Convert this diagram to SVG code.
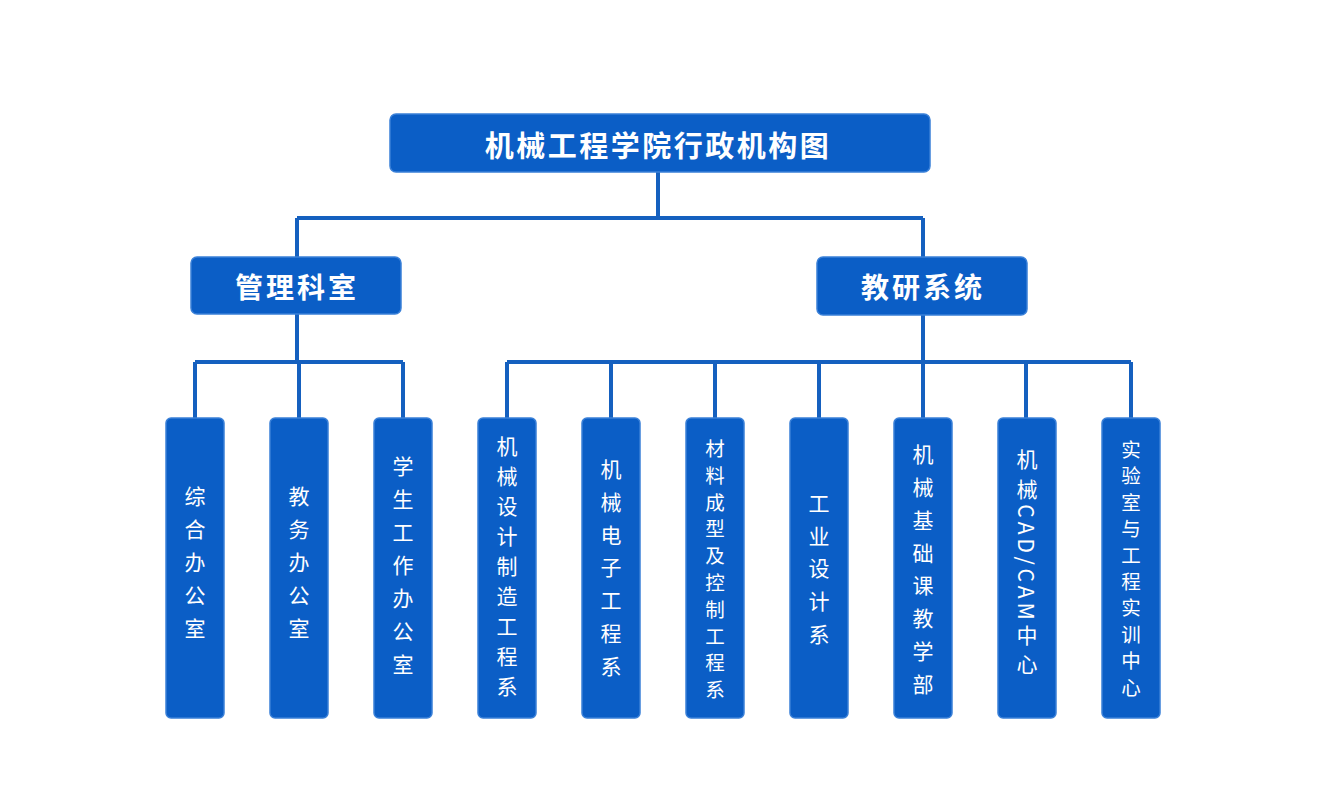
<svg xmlns="http://www.w3.org/2000/svg" width="1328" height="809" viewBox="0 0 1328 809">
<style>
.box{fill:#0b5ec6;stroke:#3a80d8;stroke-width:1.5}
.ln{fill:none;stroke:#1560bf;stroke-width:4;stroke-linejoin:miter}
.t{fill:#ffffff;font-family:"Noto Sans CJK SC","Noto Sans",sans-serif;text-anchor:middle;dominant-baseline:central}
.h{font-weight:bold}
.v{font-size:21px}
.s{font-size:19.5px}
</style>
<rect width="1328" height="809" fill="#ffffff"/>
<g id="connectors">
<path class="ln" d="M658 172 V218 M297 218 H923 M297 218 V257 M923 218 V257"/>
<path class="ln" d="M297 314 V362 M195 362 H403 M195 362 V418 M299 362 V418 M403 362 V418"/>
<path class="ln" d="M923 315 V362 M507 362 H1131 M507 362 V418 M611 362 V418 M715 362 V418 M819 362 V418 M923 362 V418 M1026 362 V418 M1131 362 V418"/>
</g>
<g id="root">
<rect class="box" x="390" y="114" width="540" height="58" rx="6"/>
<text class="t h" x="658" y="144" font-size="29" letter-spacing="2.5">机械工程学院行政机构图</text>
</g>
<g id="guanli">
<rect class="box" x="191" y="257" width="210" height="57" rx="6"/>
<text class="t h" x="297" y="286" font-size="28" letter-spacing="3">管理科室</text>
</g>
<g id="jiaoyan">
<rect class="box" x="817" y="257" width="210" height="58" rx="6"/>
<text class="t h" x="923" y="286" font-size="28" letter-spacing="3">教研系统</text>
</g>
<g id="n1">
<rect class="box" x="166" y="418" width="58" height="300" rx="5"/>
<text class="t v"><tspan x="195" y="495">综</tspan><tspan x="195" y="528">合</tspan><tspan x="195" y="561">办</tspan><tspan x="195" y="594">公</tspan><tspan x="195" y="627">室</tspan></text>
</g>
<g id="n2">
<rect class="box" x="270" y="418" width="58" height="300" rx="5"/>
<text class="t v"><tspan x="299" y="495">教</tspan><tspan x="299" y="528">务</tspan><tspan x="299" y="561">办</tspan><tspan x="299" y="594">公</tspan><tspan x="299" y="627">室</tspan></text>
</g>
<g id="n3">
<rect class="box" x="374" y="418" width="58" height="300" rx="5"/>
<text class="t v"><tspan x="403" y="465">学</tspan><tspan x="403" y="498">生</tspan><tspan x="403" y="531">工</tspan><tspan x="403" y="564">作</tspan><tspan x="403" y="597">办</tspan><tspan x="403" y="630">公</tspan><tspan x="403" y="663">室</tspan></text>
</g>
<g id="n4">
<rect class="box" x="478" y="418" width="58" height="300" rx="5"/>
<text class="t v"><tspan x="507" y="445">机</tspan><tspan x="507" y="475">械</tspan><tspan x="507" y="505">设</tspan><tspan x="507" y="535">计</tspan><tspan x="507" y="565">制</tspan><tspan x="507" y="595">造</tspan><tspan x="507" y="625">工</tspan><tspan x="507" y="655">程</tspan><tspan x="507" y="685">系</tspan></text>
</g>
<g id="n5">
<rect class="box" x="582" y="418" width="58" height="300" rx="5"/>
<text class="t v"><tspan x="611" y="468">机</tspan><tspan x="611" y="501">械</tspan><tspan x="611" y="534">电</tspan><tspan x="611" y="566">子</tspan><tspan x="611" y="599">工</tspan><tspan x="611" y="632">程</tspan><tspan x="611" y="665">系</tspan></text>
</g>
<g id="n6">
<rect class="box" x="686" y="418" width="58" height="300" rx="5"/>
<text class="t s"><tspan x="715" y="447">材</tspan><tspan x="715" y="473.8">料</tspan><tspan x="715" y="500.6">成</tspan><tspan x="715" y="527.4">型</tspan><tspan x="715" y="554.2">及</tspan><tspan x="715" y="581">控</tspan><tspan x="715" y="607.8">制</tspan><tspan x="715" y="634.6">工</tspan><tspan x="715" y="661.4">程</tspan><tspan x="715" y="688.2">系</tspan></text>
</g>
<g id="n7">
<rect class="box" x="790" y="418" width="58" height="300" rx="5"/>
<text class="t v"><tspan x="819" y="502">工</tspan><tspan x="819" y="535">业</tspan><tspan x="819" y="567">设</tspan><tspan x="819" y="600">计</tspan><tspan x="819" y="633">系</tspan></text>
</g>
<g id="n8">
<rect class="box" x="894" y="418" width="58" height="300" rx="5"/>
<text class="t v"><tspan x="923" y="453">机</tspan><tspan x="923" y="486">械</tspan><tspan x="923" y="519">基</tspan><tspan x="923" y="552">础</tspan><tspan x="923" y="584">课</tspan><tspan x="923" y="617">教</tspan><tspan x="923" y="650">学</tspan><tspan x="923" y="683">部</tspan></text>
</g>
<g id="n9">
<rect class="box" x="998" y="418" width="58" height="300" rx="5"/>
<text class="t v"><tspan x="1027" y="458">机</tspan><tspan x="1027" y="488">械</tspan><tspan x="1027" y="634">中</tspan><tspan x="1027" y="663">心</tspan></text>
<text class="t v" x="1029" y="562" letter-spacing="4" transform="rotate(90 1027 562)">CAD/CAM</text>
</g>
<g id="n10">
<rect class="box" x="1102" y="418" width="58" height="300" rx="5"/>
<text class="t s"><tspan x="1131" y="448">实</tspan><tspan x="1131" y="474.4">验</tspan><tspan x="1131" y="500.8">室</tspan><tspan x="1131" y="527.2">与</tspan><tspan x="1131" y="553.6">工</tspan><tspan x="1131" y="580">程</tspan><tspan x="1131" y="606.4">实</tspan><tspan x="1131" y="632.8">训</tspan><tspan x="1131" y="659.2">中</tspan><tspan x="1131" y="685.6">心</tspan></text>
</g>
</svg>
